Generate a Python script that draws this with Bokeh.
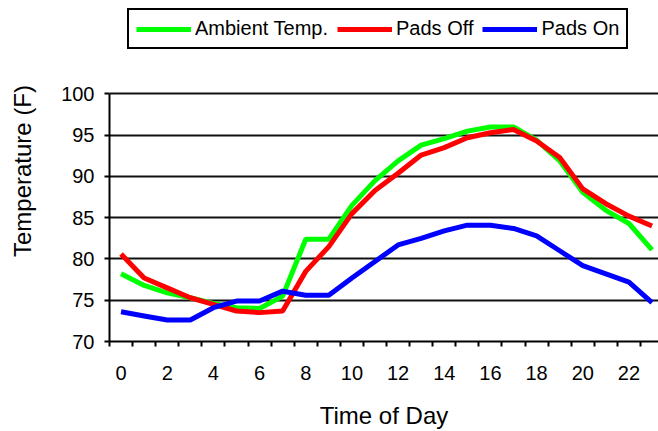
from bokeh.plotting import figure
from bokeh.models import FixedTicker, Legend, LegendItem, Range1d
from bokeh.embed import file_html
from bokeh.resources import INLINE

hours = list(range(24))
x_tick_labels = ["0", "2", "4", "6", "8", "10", "12", "14", "16", "18", "20", "22"]
y_ticks = [70, 75, 80, 85, 90, 95, 100]

ambient = [78.2, 76.8, 75.9, 75.3, 74.6, 74.1, 74.0, 75.5, 82.4, 82.4, 86.5, 89.5,
           91.9, 93.8, 94.6, 95.5, 96.0, 96.0, 94.4, 91.9, 88.1, 85.9, 84.3, 81.1]
pads_off = [80.6, 77.7, 76.5, 75.3, 74.5, 73.7, 73.5, 73.7, 78.5, 81.5, 85.5, 88.3,
            90.4, 92.6, 93.5, 94.7, 95.3, 95.7, 94.3, 92.3, 88.5, 86.7, 85.2, 84.0]
pads_on = [73.6, 73.1, 72.6, 72.6, 74.1, 74.9, 74.9, 76.1, 75.6, 75.6, 77.7, 79.7,
           81.7, 82.5, 83.4, 84.1, 84.1, 83.7, 82.8, 81.0, 79.2, 78.2, 77.2, 74.7]

FONT = "Liberation Sans"

# frame spans the full height above the x axis; the y axis itself is bounded to 70..100
p = figure(width=658, height=431, output_backend="svg", toolbar_location=None,
           x_range=Range1d(-0.5, 23.28), y_range=Range1d(70, 111.33),
           min_border_left=109, min_border_right=0, min_border_top=0, min_border_bottom=90)
p.outline_line_color = None
p.background_fill_color = "white"
p.border_fill_color = "white"

r1 = p.line(hours, ambient, line_color="#00FF00", line_width=5)
r2 = p.line(hours, pads_off, line_color="#FF0000", line_width=5)
r3 = p.line(hours, pads_on, line_color="#0000FF", line_width=5)

# x axis
xt = [int(s) for s in x_tick_labels]
p.xaxis.ticker = FixedTicker(ticks=xt, minor_ticks=[h - 0.5 for h in hours] + [23.5])
p.xaxis.major_label_overrides = {t: s for t, s in zip(xt, x_tick_labels)}
p.xaxis.major_tick_line_color = None
p.xaxis.major_tick_out = 4
p.xaxis.major_tick_in = 0
p.xaxis.minor_tick_line_color = "black"
p.xaxis.minor_tick_line_width = 2
p.xaxis.minor_tick_out = 5
p.xaxis.minor_tick_in = 0
p.xaxis.axis_line_color = "black"
p.xaxis.axis_line_width = 2
p.xaxis.major_label_text_font = FONT
p.xaxis.major_label_text_font_size = "20px"
p.xaxis.major_label_text_color = "black"
p.xaxis.major_label_standoff = 19
p.xaxis.axis_label = "Time of Day"
p.xaxis.axis_label_text_font = FONT
p.xaxis.axis_label_text_font_size = "24px"
p.xaxis.axis_label_text_font_style = "normal"
p.xaxis.axis_label_text_color = "black"
p.xaxis.axis_label_standoff = 19

# y axis
p.yaxis.bounds = (y_ticks[0], y_ticks[-1])
p.yaxis.ticker = FixedTicker(ticks=y_ticks, minor_ticks=[])
p.yaxis.major_tick_line_color = "black"
p.yaxis.major_tick_line_width = 2
p.yaxis.major_tick_out = 5
p.yaxis.major_tick_in = 0
p.yaxis.minor_tick_line_color = None
p.yaxis.axis_line_color = "black"
p.yaxis.axis_line_width = 2
p.yaxis.major_label_text_font = FONT
p.yaxis.major_label_text_font_size = "20px"
p.yaxis.major_label_text_color = "black"
p.yaxis.major_label_standoff = 10
p.yaxis.axis_label = "Temperature (F)"
p.yaxis.axis_label_text_font = FONT
p.yaxis.axis_label_text_font_size = "24px"
p.yaxis.axis_label_text_font_style = "normal"
p.yaxis.axis_label_text_color = "black"
p.yaxis.axis_label_standoff = 22

p.xgrid.grid_line_color = None
p.ygrid.ticker = FixedTicker(ticks=y_ticks)
p.ygrid.grid_line_color = "#111111"
p.ygrid.grid_line_width = 2

legend = Legend(items=[LegendItem(label="Ambient Temp.", renderers=[r1]),
                       LegendItem(label="Pads Off", renderers=[r2]),
                       LegendItem(label="Pads On", renderers=[r3])],
                orientation="horizontal", location=(18, 292))
legend.label_text_font = FONT
legend.label_text_font_size = "20px"
legend.label_text_color = "black"
legend.glyph_width = 55
legend.glyph_height = 20
legend.label_standoff = 4
legend.spacing = 9
legend.padding = 7
legend.margin = 0
legend.border_line_color = "black"
legend.border_line_alpha = 1
legend.border_line_width = 2
legend.background_fill_color = "white"
legend.background_fill_alpha = 1
p.add_layout(legend, "center")

open("out.html", "w").write(file_html(p, INLINE))
